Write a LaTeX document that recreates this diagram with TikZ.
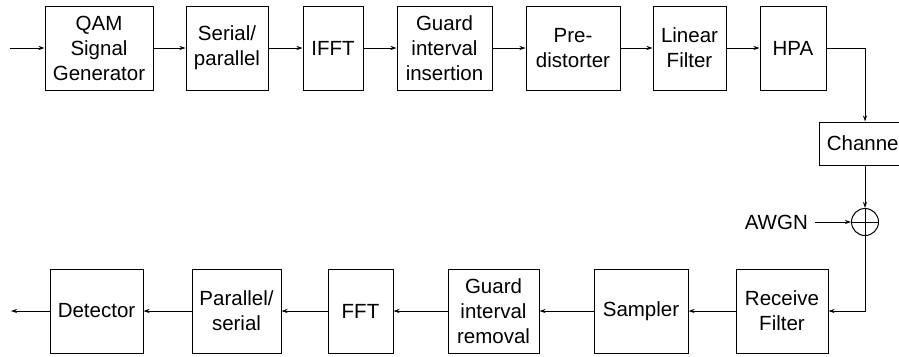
\documentclass[tikz,border=0pt]{standalone}
\usepackage{fontspec}
\setmainfont{Liberation Sans}
\usetikzlibrary{arrows.meta}
\begin{document}
\begin{tikzpicture}[x=1pt,y=-1pt,
  blk/.style={draw, line width=1pt, inner sep=0pt, align=center,
    font=\fontsize{20.5}{25}\selectfont, minimum height=84pt},
  conn/.style={line width=0.8pt, -{Stealth[length=6pt,width=4pt]}},
  lbl/.style={inner sep=0pt, font=\fontsize{20.5}{25}\selectfont}]
\useasboundingbox (0,0) rectangle (899,356);
\clip (0,0) rectangle (899,356);
% top row
\node[blk, minimum width=108pt] (qam) at (99,48) {QAM\\Signal\\Generator};
\node[blk, minimum width=82pt] (sp) at (227,48) {Serial/\\parallel};
\node[blk, minimum width=60pt] (ifft) at (333,48) {IFFT};
\node[blk, minimum width=95pt] (gi) at (444.5,48) {Guard\\interval\\insertion};
\node[blk, minimum width=94pt] (pd) at (573,48) {Pre-\\distorter};
\node[blk, minimum width=73pt] (lf) at (689.5,48) {Linear\\Filter};
\node[blk, minimum width=66pt] (hpa) at (793,48) {HPA};
% channel and noise
\node[blk, minimum width=92pt, minimum height=43pt] (ch) at (865,143.5) {Channel};
\node[draw, circle, line width=1pt, minimum size=27pt, inner sep=0pt] (sum) at (865,222) {};
\draw[line width=1pt] (sum.north) -- (sum.south) (sum.west) -- (sum.east);
\node[lbl, anchor=east] (awgn) at (808,222) {AWGN};
% bottom row
\node[blk, minimum width=93pt] (det) at (96.5,311) {Detector};
\node[blk, minimum width=89pt] (ps) at (236.5,311) {Parallel/\\serial};
\node[blk, minimum width=65pt] (fft) at (360.5,311) {FFT};
\node[blk, minimum width=91pt] (gr) at (493.5,311) {Guard\\interval\\removal};
\node[blk, minimum width=94pt] (smp) at (641,311) {Sampler};
\node[blk, minimum width=92pt] (rf) at (782,311) {Receive\\Filter};
\coordinate (in) at (10,48);
\coordinate (out) at (11,311);
% connectors
\draw[conn] (in) -- (qam.west);
\draw[conn] (qam) -- (sp);
\draw[conn] (sp) -- (ifft);
\draw[conn] (ifft) -- (gi);
\draw[conn] (gi) -- (pd);
\draw[conn] (pd) -- (lf);
\draw[conn] (lf) -- (hpa);
\draw[conn] (hpa.east) -| (ch.north);
\draw[conn] (ch.south) -- (sum.north);
\draw[conn, shorten <=7pt] (awgn.east) -- (sum.west);
\draw[conn] (sum.south) |- (rf.east);
\draw[conn] (rf) -- (smp);
\draw[conn] (smp) -- (gr);
\draw[conn] (gr) -- (fft);
\draw[conn] (fft) -- (ps);
\draw[conn] (ps) -- (det);
\draw[conn] (det.west) -- (out);
\end{tikzpicture}
\end{document}
